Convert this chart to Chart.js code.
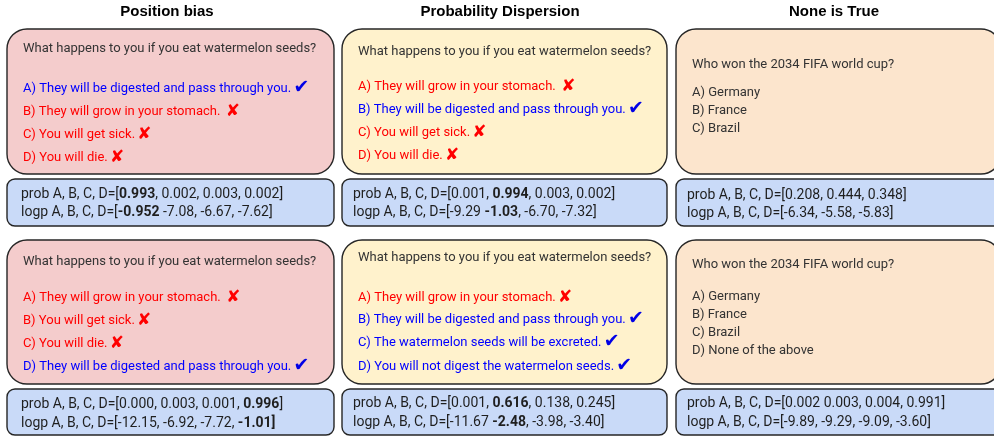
<!DOCTYPE html>
<html><head><meta charset="utf-8">
<script src="https://cdn.jsdelivr.net/npm/chart.js@4.4.1/dist/chart.umd.min.js"></script>
<style>html,body{margin:0;padding:0;background:#fff;overflow:hidden}canvas{display:block}</style>
</head><body>
<canvas id="c" width="994" height="436"></canvas>
<script>
// ---------- data ----------
const titles = ['Position bias', 'Probability Dispersion', 'None is True'];
// panels in reading order: row 1 (cols 1-3), row 2 (cols 1-3)
const questions = [
  'What happens to you if you eat watermelon seeds?',
  'What happens to you if you eat watermelon seeds?',
  'Who won the 2034 FIFA world cup?',
  'What happens to you if you eat watermelon seeds?',
  'What happens to you if you eat watermelon seeds?',
  'Who won the 2034 FIFA world cup?'
];
const answerOptions = [
  ['A) They will be digested and pass through you.', 'B) They will grow in your stomach. ', 'C) You will get sick.', 'D) You will die.'],
  ['A) They will grow in your stomach. ', 'B) They will be digested and pass through you.', 'C) You will get sick.', 'D) You will die.'],
  ['A) Germany', 'B) France', 'C) Brazil'],
  ['A) They will grow in your stomach. ', 'B) You will get sick.', 'C) You will die.', 'D) They will be digested and pass through you.'],
  ['A) They will grow in your stomach.', 'B) They will be digested and pass through you.', 'C) The watermelon seeds will be excreted.', 'D) You will not digest the watermelon seeds.'],
  ['A) Germany', 'B) France', 'C) Brazil', 'D) None of the above']
];
// true = correct (blue, check), false = wrong (red, cross), null = neutral
const answerCorrect = [
  [true, false, false, false],
  [false, true, false, false],
  [null, null, null],
  [false, false, false, true],
  [false, true, true, true],
  [null, null, null, null]
];
const probValues = [
  [0.993, 0.002, 0.003, 0.002],
  [0.001, 0.994, 0.003, 0.002],
  [0.208, 0.444, 0.348],
  [0.000, 0.003, 0.001, 0.996],
  [0.001, 0.616, 0.138, 0.245],
  [0.002, 0.003, 0.004, 0.991]
];
const logpValues = [
  [-0.952, -7.08, -6.67, -7.62],
  [-9.29, -1.03, -6.70, -7.32],
  [-6.34, -5.58, -5.83],
  [-12.15, -6.92, -7.72, -1.01],
  [-11.67, -2.48, -3.98, -3.40],
  [-9.89, -9.29, -9.09, -3.60]
];
const highlightIndex = [0, 1, -1, 3, 1, -1];
const probSeparators = [
  [', ', ', ', ', '], [', ', ', ', ', '], [', ', ', '],
  [', ', ', ', ', '], [', ', ', ', ', '], [' ', ', ', ', ']
];
const logpSeparators = [
  [' ', ', ', ', '], [' ', ', ', ', '], [', ', ', '],
  [', ', ', ', ', '], [' ', ', ', ', '], [', ', ', ', ', ']
];

// ---------- layout (positions / styles only) ----------
const COLS = [[7, 334], [342, 667], [676, 1001]];
const TITLE_X = [167, 500, 834];
const ROWS = [
  { q: [29, 174], b: [179, 226] },
  { q: [240, 384], b: [389, 435] }
];
const FILLS = ['#f4cccc', '#fff2cc', '#fce5cd'];
const BLUE_FILL = '#c9daf8';
const TEXT_X = [23, 358, 692];
const BLUE_X = [21, 353, 687];
const Q_Y = [[51.7, 54.5, 67.8], [265.2, 260.5, 267.8]];
const OPT_Y = [
  [[91.8, 114.5, 137.8, 160.5], [89.5, 112.8, 136.2, 158.5], [96, 113.8, 132]],
  [[300.5, 323.5, 346.8, 369.5], [300.5, 322.8, 346.2, 369.5], [300.2, 317.8, 335.5, 353.5]]
];
const BLUE_Y = [
  [[197.5, 216], [198, 216.3], [199.3, 217.3]],
  [[408, 426.7], [407.3, 426], [407.3, 426]]
];
const BODY_FONT = "'Roboto', 'Open Sans', sans-serif";

function fmtProb(v) { return v.toFixed(3); }
function fmtLogp(v) { return Math.abs(v) < 1 ? v.toFixed(3) : v.toFixed(2); }

function roundRect(ctx, x0, y0, x1, y1, r) {
  ctx.beginPath();
  ctx.moveTo(x0 + r, y0);
  ctx.lineTo(x1 - r, y0);
  ctx.arcTo(x1, y0, x1, y0 + r, r);
  ctx.lineTo(x1, y1 - r);
  ctx.arcTo(x1, y1, x1 - r, y1, r);
  ctx.lineTo(x0 + r, y1);
  ctx.arcTo(x0, y1, x0, y1 - r, r);
  ctx.lineTo(x0, y0 + r);
  ctx.arcTo(x0, y0, x0 + r, y0, r);
  ctx.closePath();
}

function drawRuns(ctx, x, y, runs, size) {
  for (const run of runs) {
    ctx.font = (run.bold ? '700 ' : '400 ') + size + 'px ' + BODY_FONT;
    ctx.fillText(run.text, x, y);
    x += ctx.measureText(run.text).width;
  }
}

function buildRuns(label, values, fmt, seps, hi, boldClose) {
  const runs = [{ text: label + '[', bold: false }];
  values.forEach((v, i) => {
    runs.push({ text: fmt(v), bold: i === hi });
    if (i < values.length - 1) runs.push({ text: seps[i], bold: false });
  });
  runs.push({ text: ']', bold: !!boldClose });
  return runs;
}

const panelPlugin = {
  id: 'panels',
  afterDraw(chart) {
    const ctx = chart.ctx;
    const sx = chart.scales.x, sy = chart.scales.y;
    const X = v => sx.getPixelForValue(v);
    const Y = v => sy.getPixelForValue(v);
    ctx.save();
    ctx.textBaseline = 'alphabetic';
    // titles
    ctx.fillStyle = '#000';
    ctx.textAlign = 'center';
    ctx.font = "700 15px 'Liberation Sans', Arial, sans-serif";
    titles.forEach((t, c) => ctx.fillText(t, X(TITLE_X[c]), Y(16)));
    ctx.textAlign = 'left';

    for (let r = 0; r < 2; r++) {
      for (let c = 0; c < 3; c++) {
        const p = r * 3 + c;
        const [x0, x1] = COLS[c];
        ctx.lineWidth = 1.4;
        ctx.strokeStyle = '#262626';
        // question box
        roundRect(ctx, X(x0), Y(ROWS[r].q[0]), X(x1), Y(ROWS[r].q[1]), 20);
        ctx.fillStyle = FILLS[c];
        ctx.fill();
        ctx.stroke();
        // blue box
        roundRect(ctx, X(x0), Y(ROWS[r].b[0]), X(x1), Y(ROWS[r].b[1]), 8);
        ctx.fillStyle = BLUE_FILL;
        ctx.fill();
        ctx.stroke();

        // question text
        ctx.fillStyle = '#333333';
        ctx.font = '400 13px ' + BODY_FONT;
        ctx.fillText(questions[p], X(TEXT_X[c]), Y(Q_Y[r][c]));
        // options
        answerOptions[p].forEach((opt, i) => {
          const ok = answerCorrect[p][i];
          const col = ok === true ? '#0000ff' : ok === false ? '#ff0000' : '#333333';
          ctx.fillStyle = col;
          ctx.font = '400 13px ' + BODY_FONT;
          const xx = X(TEXT_X[c]);
          const yy = Y(OPT_Y[r][c][i]);
          ctx.fillText(opt, xx, yy);
          if (ok !== null) {
            const w = ctx.measureText(opt + ' ').width;
            if (ok) {
              ctx.fillStyle = '#0000e6';
              ctx.font = "700 19px 'DejaVu Sans', sans-serif";
              ctx.fillText('\u2714', xx + w - 1, yy + 1);
            } else {
              ctx.fillStyle = '#ff0000';
              ctx.font = "700 17px 'DejaVu Sans', sans-serif";
              ctx.fillText('\u2718', xx + w - 1, yy + 1);
            }
          }
        });
        // blue box text
        ctx.fillStyle = '#1f1f1f';
        const bx = X(BLUE_X[c]);
        drawRuns(ctx, bx, Y(BLUE_Y[r][c][0]),
          buildRuns('prob A, B, C, D=', probValues[p], fmtProb, probSeparators[p], highlightIndex[p], false), 14);
        drawRuns(ctx, bx, Y(BLUE_Y[r][c][1]),
          buildRuns('logp A, B, C, D=', logpValues[p], fmtLogp, logpSeparators[p], highlightIndex[p], p === 3), 14);
      }
    }
    ctx.restore();
  }
};

new Chart(document.getElementById('c'), {
  type: 'scatter',
  data: { datasets: [{ data: [], showLine: false }] },
  options: {
    responsive: false,
    animation: false,
    events: [],
    layout: { padding: 0 },
    plugins: { legend: { display: false }, tooltip: { enabled: false }, title: { display: false } },
    scales: {
      x: { type: 'linear', min: 0, max: 994, display: false },
      y: { type: 'linear', min: 0, max: 436, reverse: true, display: false }
    }
  },
  plugins: [panelPlugin]
});
</script>
</body></html>
